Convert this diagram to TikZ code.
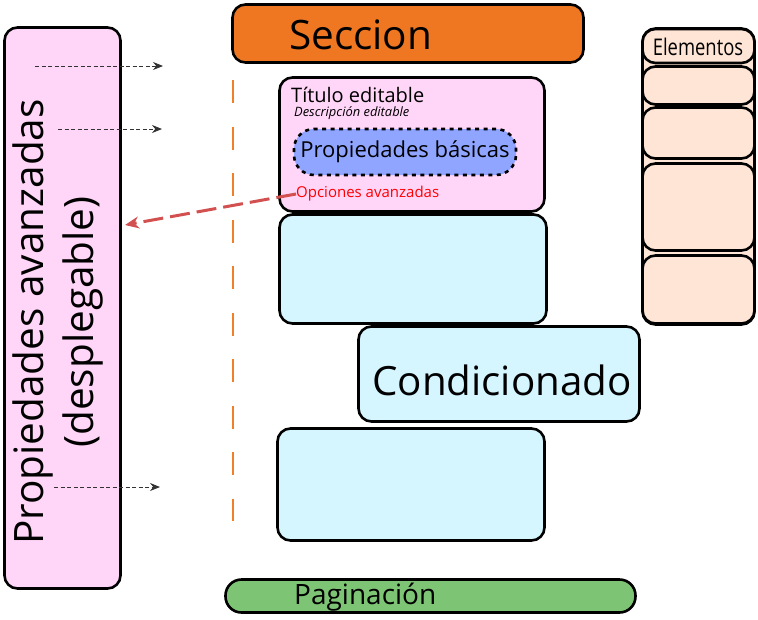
\documentclass[tikz,border=0pt]{standalone}
\usepackage{fontspec}
\setmainfont{Open Sans}
\newfontfamily\narrowfont[FakeStretch=0.8]{Open Sans}
\usepackage{tikz}
\usetikzlibrary{positioning, calc, arrows.meta}

\definecolor{pinkfill}{HTML}{FFD5F8}
\definecolor{cyanfill}{HTML}{D5F6FF}
\definecolor{orangefill}{HTML}{EF7722}
\definecolor{greenfill}{HTML}{7DC474}
\definecolor{peachfill}{HTML}{FFE5D5}
\definecolor{bluefill}{HTML}{8FA5FF}
\definecolor{guideorange}{HTML}{F07F2A}
\definecolor{arrowred}{HTML}{D35050}

\begin{document}
\begin{tikzpicture}[
      x=1pt, y=-1pt,
      box/.style={draw, line width=2.6pt, rounded corners=13pt, inner sep=0pt},
      txt/.style={inner sep=0pt, anchor=west},
      hint/.style={-{Stealth[length=10pt, width=8pt]}, black!80, line width=0.9pt, dash pattern=on 4pt off 2.5pt},
      back/.style={-{Stealth[length=14pt, width=12pt]}, arrowred, line width=3pt, dash pattern=on 20pt off 7pt}
  ]
  \useasboundingbox (0,0) rectangle (758,619);

  % panel lateral
  \node[box, fill=pinkfill, minimum width=116pt, minimum height=561pt] (avz) at (62.5,308) {};
  \node[rotate=90, align=center, font=\fontsize{40.5}{50}\selectfont] (avztxt) at (58,322)
    {Propiedades avanzadas\\(desplegable)};

  % guia
  \draw[guideorange, line width=2.5pt, dash pattern=on 23pt off 23.5pt] (233,80) -- (233,521);

  % seccion y bloques
  \node[box, fill=orangefill, minimum width=351pt, minimum height=58pt] (sec) at (408,33.5) {};
  \node[txt, font=\fontsize{40.5}{42}\selectfont] (sectxt) at (289,35) {Seccion};

  \node[box, fill=pinkfill, minimum width=265pt, minimum height=134pt] (tit) at (412,144.5) {};
  \node[txt, font=\fontsize{20}{22}\selectfont] (tittxt) at (291,95) {Título editable};
  \node[txt, font=\fontsize{12.9}{14}\selectfont\itshape] (desc) at (294,113) {Descripción editable};
  \node[box, fill=bluefill, rounded corners=20pt, dash pattern=on 4pt off 4.5pt,
        minimum width=222pt, minimum height=46pt, font=\fontsize{22}{24}\selectfont] (basic) at (405,152)
    {Propiedades básicas};
  \node[txt, text=red, font=\fontsize{15}{17}\selectfont] (opc) at (296,194) {Opciones avanzadas};

  \node[box, fill=cyanfill, minimum width=267pt, minimum height=109pt] (cy1) at (413,269) {};
  \node[box, fill=cyanfill, minimum width=281pt, minimum height=95pt] (cond) at (499,374) {};
  \node[font=\fontsize{40.3}{42}\selectfont, inner sep=0pt] (condtxt) at (502,380) {Condicionado};
  \node[box, fill=cyanfill, minimum width=267pt, minimum height=112pt] (cy3) at (411,484.5) {};

  \node[box, fill=greenfill, rounded corners=16pt, minimum width=410pt, minimum height=33pt] (pag) at (430.5,596) {};
  \node[txt, font=\fontsize{28}{30}\selectfont] (pagtxt) at (294,597) {Paginación};

  % columna de elementos
  \node[box, fill=peachfill, minimum width=112pt, minimum height=296pt] (elem) at (698.5,176.5) {};
  \foreach \cy/\h [count=\k] in {46/34, 85.5/38, 133/51, 207/87, 289.5/68} {
      \node[box, fill=peachfill, minimum width=112pt, minimum height=\h pt] (e\k) at (698.5,\cy) {};
  }
  \node[font=\narrowfont\fontsize{23}{25}\selectfont, inner sep=0pt] (elemtxt) at (698,46.5) {Elementos};

  % flechas
  \foreach \i/\xa/\xb/\yy in {1/35/163/66, 2/58/162/129, 3/54/160/487} {
      \coordinate (h\i a) at (\xa,\yy);
      \coordinate (h\i b) at (\xb,\yy);
      \draw[hint] (h\i a) -- (h\i b);
  }
  \coordinate (redend) at (125,225);
  \draw[back] (opc.west) -- (redend);
\end{tikzpicture}
\end{document}
